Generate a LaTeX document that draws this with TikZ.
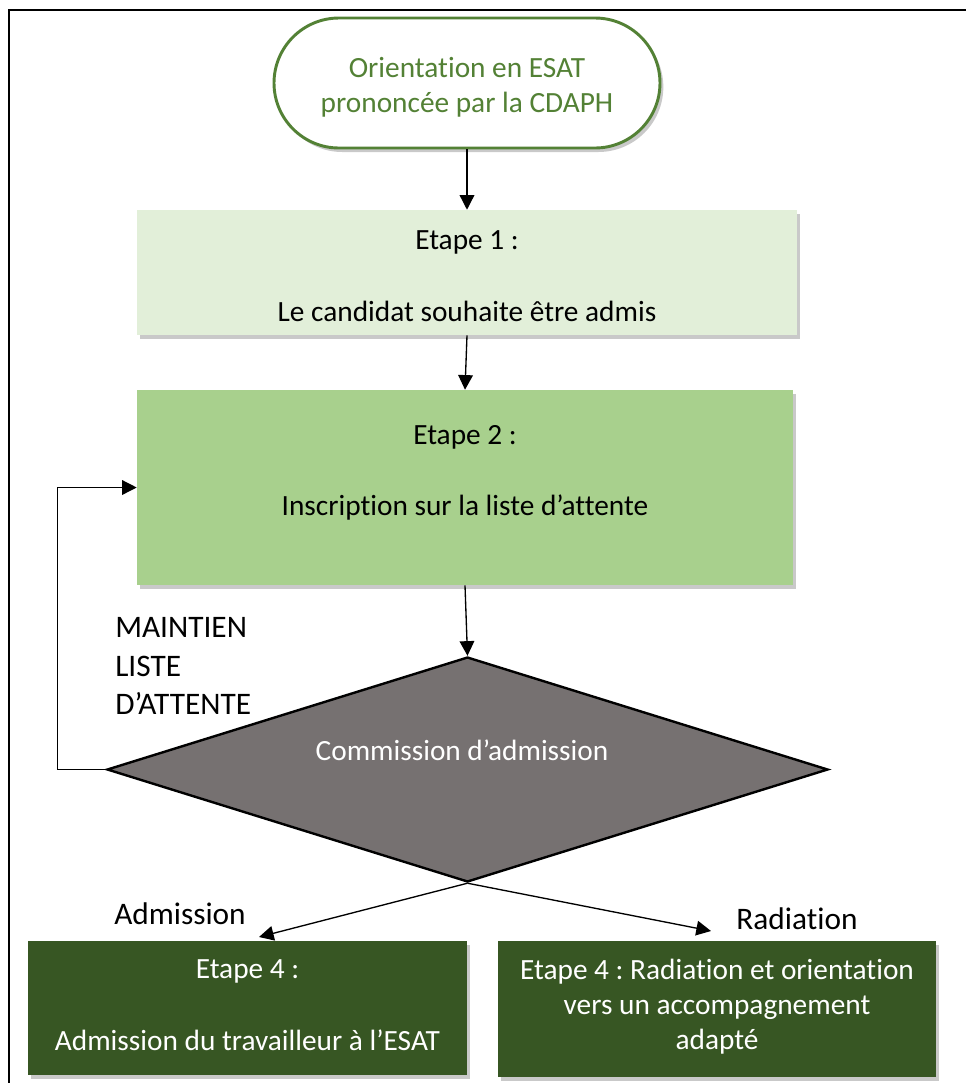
\documentclass[tikz,border=0pt]{standalone}
\usepackage{fontspec}
\setmainfont[Ligatures=NoCommon]{Carlito}
\frenchspacing
\usetikzlibrary{arrows.meta,shapes.geometric,shadows,fit,calc}
\definecolor{termgreen}{HTML}{538135}
\definecolor{lightgreen}{HTML}{E2EFD9}
\definecolor{midgreen}{HTML}{A8D08D}
\definecolor{darkgreen}{HTML}{375623}
\definecolor{diagray}{HTML}{767171}
\begin{document}
\begin{tikzpicture}[x=0.75pt,y=-0.75pt,
  every node/.style={font=\fontsize{22}{26.25}\selectfont},
  conn/.style={line width=1pt,-{Triangle[length=11pt,width=11pt]}},
  boxshadow/.style={drop shadow={shadow xshift=2.5pt,shadow yshift=-3pt,opacity=0.3,fill=black!70}},
  box/.style={inner sep=0pt,boxshadow},
  boxtext/.style={align=center,inner sep=0pt},
  lbl/.style={font=\fontsize{23.5}{29}\selectfont,align=left,inner sep=0pt},
]
\useasboundingbox (0,0) rectangle (966,1083);
\draw[line width=1.5pt] (9,1083) -- (9,10) -- (966,10);

% start terminator
\node[fit={(274,18)(660,148)},inner sep=0pt,rounded corners=48.75pt,draw=termgreen,line width=2.2pt,fill=white,boxshadow] (start) {};
\node[boxtext,text=termgreen] (starttext) at (467,87) {Orientation en ESAT\\prononcée par la CDAPH};

% Etape 1
\node[fit={(137,210)(797,335)},box,fill=lightgreen] (e1) {};
\node[boxtext] (e1a) at (467,242) {Etape 1 :};
\node[boxtext] (e1b) at (467,311) {Le candidat souhaite être admis};

% Etape 2
\node[fit={(137,390)(793,585)},box,fill=midgreen] (e2) {};
\node[boxtext] (e2a) at (465,437) {Etape 2 :};
\node[boxtext] (e2b) at (465,508) {Inscription sur la liste d’attente};

% Commission
\node[diamond,draw=black,line width=1.8pt,fill=diagray,inner sep=0pt,aspect=3.2,
  minimum width=540.75pt,minimum height=168.75pt] (comm) at (467.5,769.5) {};
\node[text=white] (commtext) at (462,750) {Commission d’admission};

% Etape 4 boxes
\node[fit={(28,941)(467,1075)},box,fill=darkgreen] (adm) {};
\node[boxtext,text=white] (adma) at (247.5,971) {Etape 4 :};
\node[boxtext,text=white] (admb) at (247.5,1040) {Admission du travailleur à l’ESAT};
\node[fit={(498,941)(936,1077)},box,fill=darkgreen] (rad) {};
\node[boxtext,text=white] (radt) at (717,1007) {Etape 4 : Radiation et orientation\\vers un accompagnement\\adapté};

% labels
\node[lbl,anchor=north west] (maint) at (115,617) {MAINTIEN\\LISTE\\D’ATTENTE};
\node[lbl] (admlbl) at (180,914) {Admission};
\node[lbl] (radlbl) at (797,919) {Radiation};

% connectors
\coordinate (admtip) at (259,937);
\coordinate (radtip) at (711,931);
\draw[conn] (start.south) -- (e1.north);
\draw[conn] (e1.south) -- (e2.north);
\draw[conn] (e2.south) -- (comm.north);
\draw[conn] (comm.west) -- ++(-48,0) |- (e2.west);
\draw[conn] (comm.south) -- (admtip);
\draw[conn] (comm.south) -- (radtip);
\end{tikzpicture}
\end{document}
